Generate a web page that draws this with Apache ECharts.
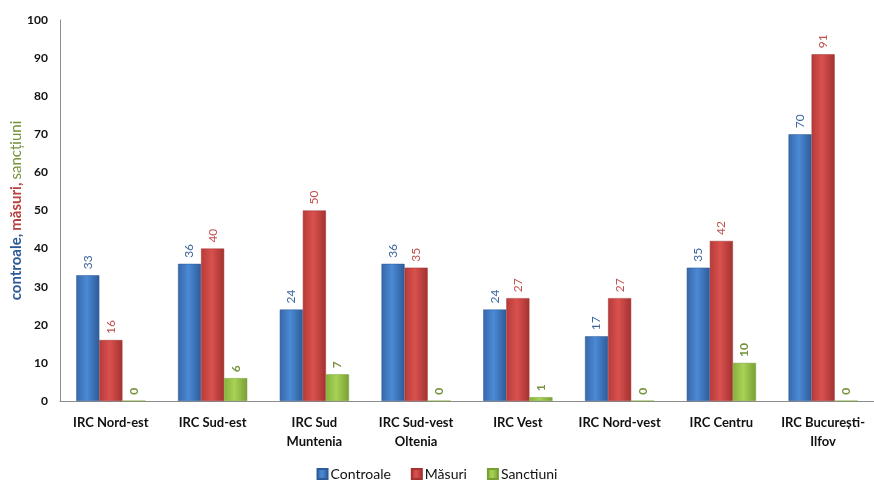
<!DOCTYPE html>
<html><head><meta charset="utf-8">
<script src="https://cdn.jsdelivr.net/npm/echarts@6/dist/echarts.min.js"></script>
<style>html,body{margin:0;padding:0;background:#fff}#c{width:874px;height:480px}</style>
</head><body><div id="c"></div>
<script>
const categories = ['IRC Nord-est','IRC Sud-est','IRC Sud\nMuntenia','IRC Sud-vest\nOltenia','IRC Vest','IRC Nord-vest','IRC Centru','IRC București-\nIlfov'];
const controale = [33,36,24,36,24,17,35,70];
const masuri = [16,40,50,35,27,27,42,91];
const sanctiuni = [0,6,7,0,1,0,10,0];
const yTicks = {min:0, max:100, interval:10};

const FONT = 'Lato, "Open Sans", sans-serif';
function grad(a,b,c){
  return new echarts.graphic.LinearGradient(0,0,1,0,[{offset:0,color:a},{offset:0.45,color:b},{offset:1,color:c}]);
}
function mk(name,data,colors,labelColor){
  return {
    name, type:'bar', data, barGap:'0%', barCategoryGap:'32%',
    itemStyle:{color:grad(colors[0],colors[1],colors[2]), borderColor:colors[2], borderWidth:0.5},
    label:{show:true, position:'top', rotate:90, align:'left', verticalAlign:'middle', distance:6,
      color:labelColor, fontFamily:FONT, fontSize:12, fontWeight: name==='Sanctiuni'?'bold':'normal'}
  };
}
const chart = echarts.init(document.getElementById('c'));
chart.setOption({
  animation:false,
  textStyle:{fontFamily:FONT},
  grid:{left:60, right:0, top:20, bottom:79, containLabel:false, outerBoundsMode:'none'},
  legend:{top:465, left:'center', itemWidth:10, itemHeight:10, itemGap:20, icon:'rect', padding:[2,5,2,5],
    textStyle:{fontFamily:FONT, fontSize:14, color:'#111', padding:[0,0,0,-2]},
    data:['Controale','Măsuri','Sanctiuni']},
  xAxis:{type:'category', data:categories,
    axisLine:{lineStyle:{color:'#8c8c8c', width:1}}, axisTick:{show:false},
    axisLabel:{interval:0, fontFamily:FONT, fontWeight:'bold', fontSize:13, color:'#111', margin:12, lineHeight:19}},
  yAxis:{type:'value', min:yTicks.min, max:yTicks.max, interval:yTicks.interval,
    splitLine:{show:false}, axisTick:{show:false},
    axisLine:{show:true, lineStyle:{color:'#8c8c8c', width:1}},
    axisLabel:{fontFamily:FONT, fontWeight:'bold', fontSize:12, color:'#111', margin:12},
    name:'{b|controale,} {r|măsuri,} {g|sancțiuni}', nameLocation:'middle', nameGap:36, nameRotate:90,
    nameMoveOverlap:false,
    nameTextStyle:{rich:{
      b:{color:'#2c5a96', fontFamily:FONT, fontWeight:'bold', fontSize:15},
      r:{color:'#b8403d', fontFamily:FONT, fontWeight:'bold', fontSize:15},
      g:{color:'#76923c', fontFamily:FONT, fontWeight:'normal', fontSize:15}}}},
  series:[
    mk('Controale', controale, ['#3867a8','#4b8ad6','#2d5b98'], '#3c669e'),
    mk('Măsuri', masuri, ['#b63b39','#d9514e','#a33230'], '#c0504d'),
    mk('Sanctiuni', sanctiuni, ['#86b23c','#a8d256','#789f34'], '#77933c')
  ],
  color:['#4a7fc4','#c94543','#9bc24a']
});
</script></body></html>
